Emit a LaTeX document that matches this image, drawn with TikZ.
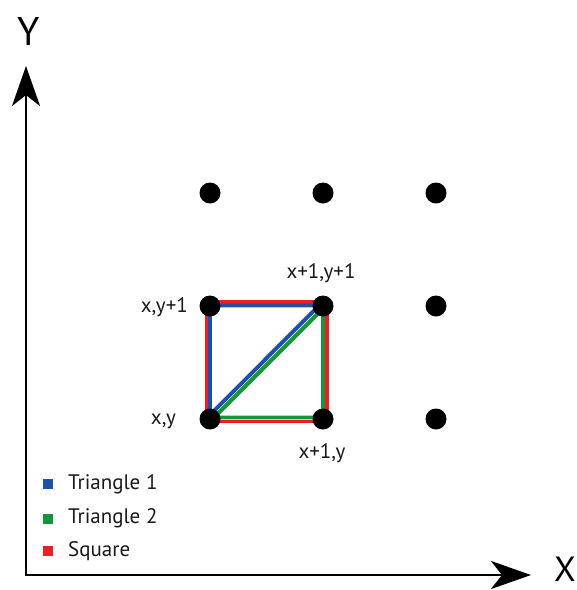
\documentclass[tikz,border=0pt]{standalone}
\usepackage{fontspec}
\setmainfont{PT Sans}
\usetikzlibrary{arrows.meta}
\definecolor{tblue}{RGB}{30,80,170}
\definecolor{tgreen}{RGB}{20,150,60}
\definecolor{tred}{RGB}{235,30,40}
\tikzset{
  dot/.style={circle,fill=black,inner sep=0pt,minimum size=21pt},
  lbl/.style={font=\fontsize{21}{25}\selectfont,inner sep=0pt,text=black!90},
  axis/.style={line width=2.8pt,-{Stealth[length=40pt,width=28pt,inset=11pt]}},
  legsq/.style={inner sep=0pt,minimum size=10pt},
  edge/.style={line width=3.9pt,line join=miter}
}
\begin{document}
\begin{tikzpicture}[x=1pt,y=-1pt]
\useasboundingbox (0,0) rectangle (577,590);
% axes
\coordinate (O) at (26,575);
\coordinate (Ytip) at (26,66);
\coordinate (Xtip) at (531,575);
\draw[axis] ([yshift=-1.4pt]O) -- (Ytip);
\draw[axis] ([xshift=-1.4pt]O) -- (Xtip);
\node[font=\fontsize{40}{44}\selectfont,inner sep=0pt] (Ylab) at (29,31) {Y};
\node[font=\fontsize{35}{38}\selectfont,inner sep=0pt] (Xlab) at (565,569) {X};
% square and triangles
\draw[edge,tred] (206.5,302) rectangle (327,421.5);
\draw[edge,tblue] (210,305.5) -- (319,305.5) -- (210,415) -- cycle;
\draw[edge,tgreen] (323,308.5) -- (323,417.5) -- (214,417.5) -- cycle;
% dots
\foreach \c/\x in {a/210,b/323,c/436}{
  \node[dot] (\c1) at (\x,193) {};
  \node[dot] (\c2) at (\x,306) {};
  \node[dot] (\c3) at (\x,419) {};
}
% labels
\node[lbl,anchor=east] (l1) at (188,307) {x,y+1};
\node[lbl] (l2) at (321,273) {x+1,y+1};
\node[lbl,anchor=east] (l3) at (176,421) {x,y};
\node[lbl] (l4) at (322,453) {x+1,y};
% legend
\node[legsq,fill=tblue] (s1) at (48,484) {};
\node[legsq,fill=tgreen] (s2) at (48,519) {};
\node[legsq,fill=tred] (s3) at (48,551) {};
\node[lbl,anchor=west] (t1) at (68,484) {Triangle 1};
\node[lbl,anchor=west] (t2) at (68,518) {Triangle 2};
\node[lbl,anchor=west] (t3) at (68,551) {Square};
\end{tikzpicture}
\end{document}
